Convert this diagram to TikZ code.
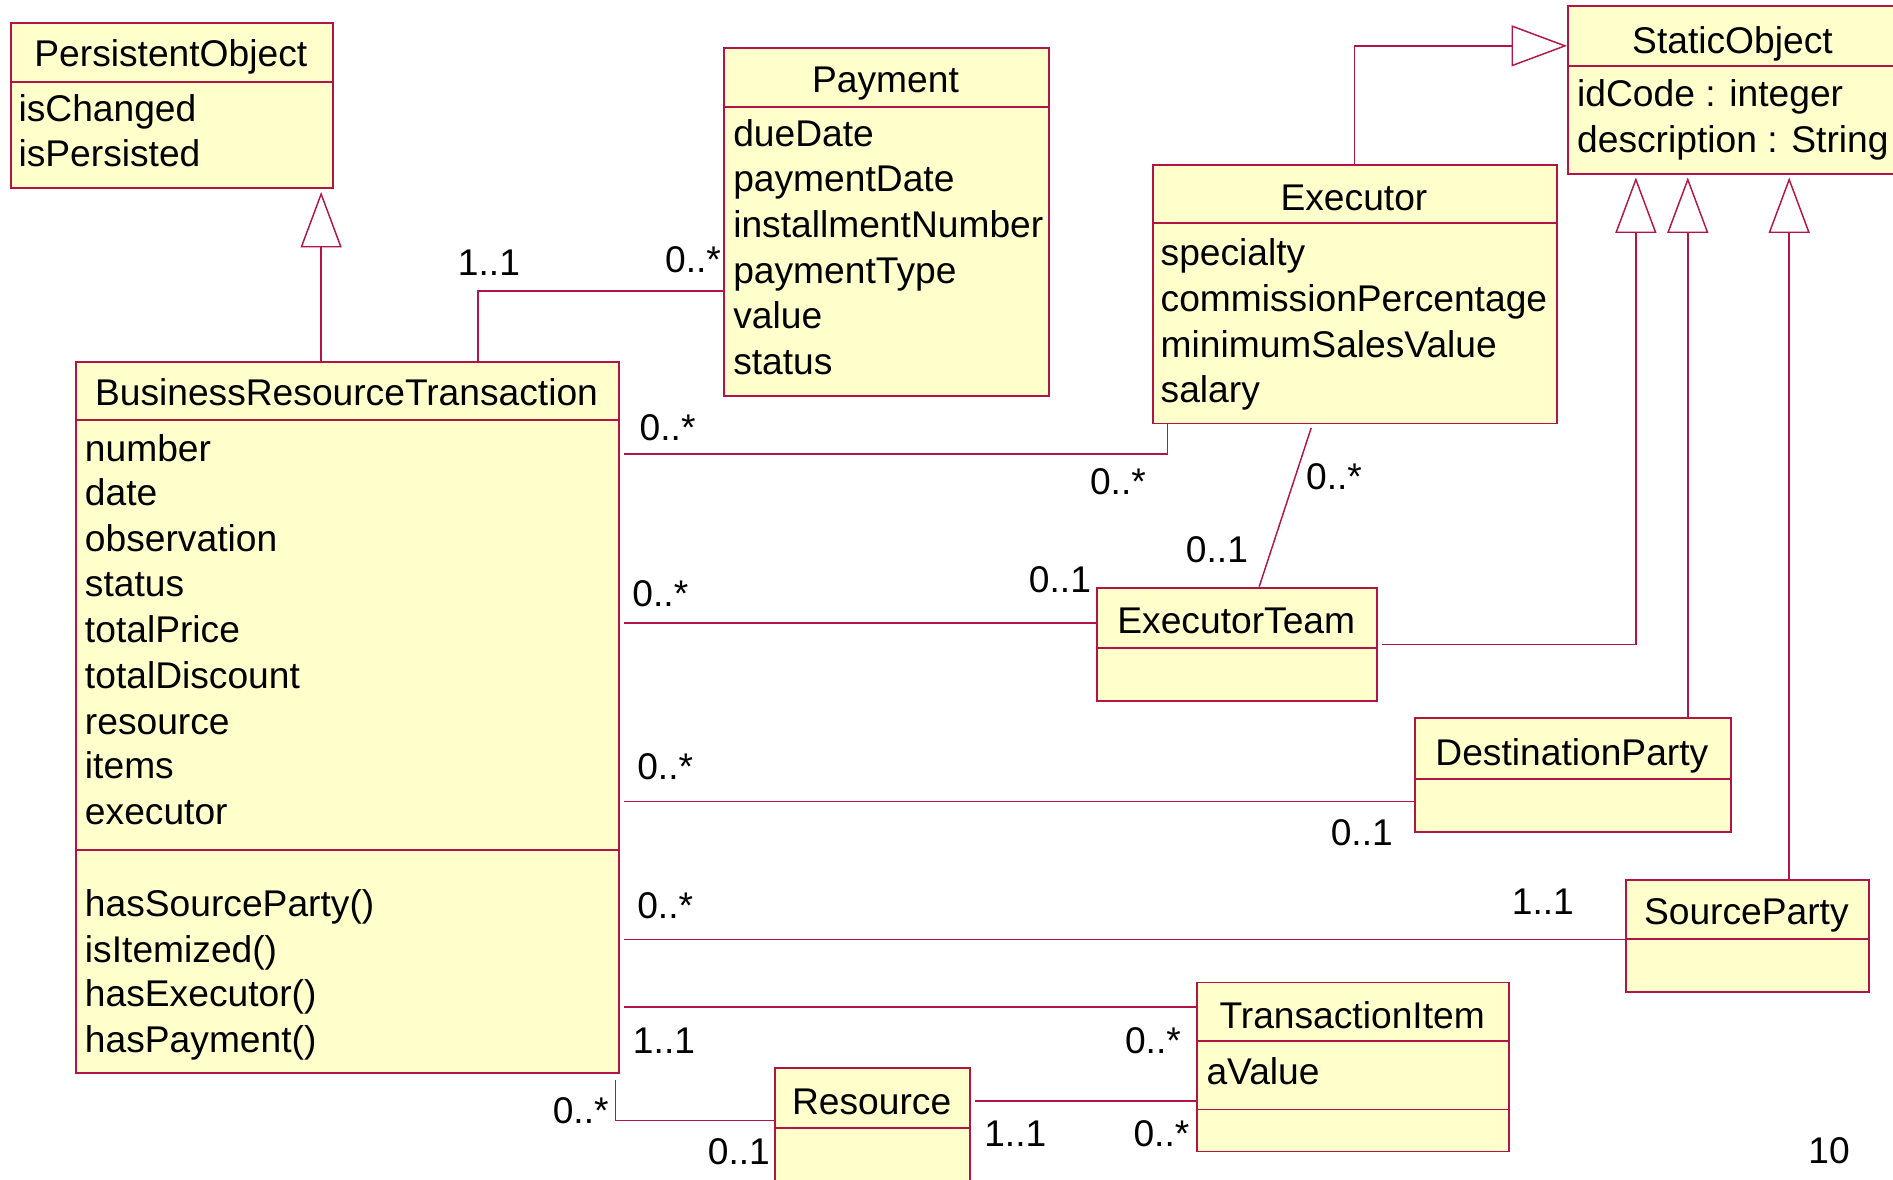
\documentclass[tikz,border=0pt]{standalone}
\usepackage{fontspec}
\setmainfont{Liberation Sans}
\usetikzlibrary{arrows.meta}
\definecolor{umlline}{RGB}{178,20,70}
\definecolor{umlfill}{RGB}{255,255,204}
\tikzset{
  classbox/.style={draw=umlline, fill=umlfill, line width=0.8pt, inner sep=0pt, anchor=north west},
  divider/.style={draw=umlline, line width=0.8pt},
  assoc/.style={draw=umlline, line width=0.6pt},
  gap/.style={shorten <=1.5pt},
  gen/.style={assoc, -{Triangle[open, length=23pt, width=17pt]}, shorten >=1.2pt},
  txt/.style={inner sep=0pt, font=\fontsize{15.4pt}{18pt}\selectfont},
  attr/.style={txt, anchor=base west},
  cname/.style={txt, anchor=base},
  mult/.style={txt, anchor=center},
}
% class rectangle: name, left, top, right, bottom
\newcommand\classrect[5]{\node[classbox, minimum width={(#4-#2)*0.5pt}, minimum height={(#5-#3)*0.5pt}] (#1) at (#2,#3) {};}
\begin{document}
\begin{tikzpicture}[x=0.5pt, y=-0.5pt]
\useasboundingbox (0,0) rectangle (1568,977);
\clip (0,0) rectangle (1568,977);

% ---------- PersistentObject ----------
\classrect{po}{8}{18}{275}{155}
\draw[divider] (8,68) -- (275,68);
\node[cname] (po-name) at (141.5,55) {PersistentObject};
\node[attr] (po-a1) at (15,101) {isChanged};
\node[attr] (po-a2) at (15,138) {isPersisted};

% ---------- Payment ----------
\classrect{pay}{599}{39}{868}{327}
\draw[divider] (599,89) -- (868,89);
\node[cname] (pay-name) at (733.5,77) {Payment};
\node[attr] (pay-a1) at (607,121) {dueDate};
\node[attr] (pay-a2) at (607,159) {paymentDate};
\node[attr] (pay-a3) at (607,197) {installmentNumber};
\node[attr] (pay-a4) at (607,235) {paymentType};
\node[attr] (pay-a5) at (607,272) {value};
\node[attr] (pay-a6) at (607,310) {status};

% ---------- StaticObject ----------
\classrect{so}{1298}{4}{1572}{143}
\draw[divider] (1298,55) -- (1572,55);
\node[cname] (so-name) at (1435,44) {StaticObject};
\node[attr] (so-a1) at (1306,88) {idCode : integer};
\node[attr] (so-a2) at (1306,126) {description : String};

% ---------- Executor ----------
\classrect{ex}{954}{136}{1289}{350}
\draw[divider] (954,185) -- (1289,185);
\node[cname] (ex-name) at (1121.5,174) {Executor};
\node[attr] (ex-a1) at (961,220) {specialty};
\node[attr] (ex-a2) at (961,258) {commissionPercentage};
\node[attr] (ex-a3) at (961,296) {minimumSalesValue};
\node[attr] (ex-a4) at (961,333) {salary};

% ---------- BusinessResourceTransaction ----------
\classrect{brt}{62}{299}{512}{888}
\draw[divider] (62,348) -- (512,348);
\draw[divider] (62,704) -- (512,704);
\node[cname] (brt-name) at (287,336) {BusinessResourceTransaction};
\node[attr] (brt-a1) at (70,382) {number};
\node[attr] (brt-a2) at (70,419) {date};
\node[attr] (brt-a3) at (70,457) {observation};
\node[attr] (brt-a4) at (70,494) {status};
\node[attr] (brt-a5) at (70,532) {totalPrice};
\node[attr] (brt-a6) at (70,570) {totalDiscount};
\node[attr] (brt-a7) at (70,608) {resource};
\node[attr] (brt-a8) at (70,645) {items};
\node[attr] (brt-a9) at (70,683) {executor};
\node[attr] (brt-o1) at (70,759) {hasSourceParty()};
\node[attr] (brt-o2) at (70,797) {isItemized()};
\node[attr] (brt-o3) at (70,834) {hasExecutor()};
\node[attr] (brt-o4) at (70,872) {hasPayment()};

% ---------- ExecutorTeam ----------
\classrect{et}{908}{486}{1140}{580}
\draw[divider] (908,537) -- (1140,537);
\node[cname] (et-name) at (1024,525) {ExecutorTeam};

% ---------- DestinationParty ----------
\classrect{dp}{1171}{594}{1433}{688}
\draw[divider] (1171,645) -- (1433,645);
\node[cname] (dp-name) at (1302,634) {DestinationParty};

% ---------- SourceParty ----------
\classrect{sp}{1346}{728}{1547}{821}
\draw[divider] (1346,778) -- (1547,778);
\node[cname] (sp-name) at (1446.5,766) {SourceParty};

% ---------- TransactionItem ----------
\classrect{ti}{991}{813}{1249}{953}
\draw[divider] (991,862) -- (1249,862);
\draw[divider] (991,919) -- (1249,919);
\node[cname] (ti-name) at (1120,852) {TransactionItem};
\node[attr] (ti-a1) at (999,898) {aValue};

% ---------- Resource ----------
\classrect{res}{641}{884}{803}{995}
\draw[divider] (641,934) -- (803,934);
\node[cname] (res-name) at (722,923) {Resource};

% ---------- generalisations ----------
\coordinate (g-po) at (266,0);
\draw[gen] (g-po |- brt.north) -- (g-po |- po.south);
\coordinate (g-ex) at (1122,38);
\draw[gen, shorten >=0pt] (g-ex |- ex.north) -- (g-ex) -- (g-ex -| so.west);
\coordinate (g-et) at (1355,534);
\draw[gen, gap] (g-et -| et.east) -- (g-et) -- (g-et |- so.south);
\coordinate (g-dp) at (1398,0);
\draw[gen] (g-dp |- dp.north) -- (g-dp |- so.south);
\coordinate (g-sp) at (1482,0);
\draw[gen] (g-sp |- sp.north) -- (g-sp |- so.south);

% ---------- associations ----------
\coordinate (l-pay) at (396,241);
\draw[assoc] (l-pay |- brt.north) -- (l-pay) -- (l-pay -| pay.west);
\coordinate (l-ex) at (967,376);
\draw[assoc, gap] (l-ex -| brt.east) -- (l-ex) -- (l-ex |- ex.south);
\coordinate (l-d1) at (1087,0);
\coordinate (l-d2) at (1043,0);
\draw[assoc, gap] (l-d1 |- ex.south) -- (l-d2 |- et.north);
\coordinate (l-et) at (0,516);
\draw[assoc, gap] (l-et -| brt.east) -- (l-et -| et.west);
\coordinate (l-dp) at (0,664);
\draw[assoc, gap] (l-dp -| brt.east) -- (l-dp -| dp.west);
\coordinate (l-sp) at (0,778);
\draw[assoc, gap] (l-sp -| brt.east) -- (l-sp -| sp.west);
\coordinate (l-ti) at (0,834);
\draw[assoc, gap] (l-ti -| brt.east) -- (l-ti -| ti.west);
\coordinate (l-res) at (510,928);
\draw[assoc, shorten <=2.5pt] (l-res |- brt.south) -- (l-res) -- (l-res -| res.west);
\coordinate (l-ri) at (0,912);
\draw[assoc, gap] (l-ri -| res.east) -- (l-ri -| ti.west);

% ---------- multiplicities ----------
\node[mult] (m-pay1) at (405,218) {1..1};
\node[mult] (m-pay2) at (574,215) {0..*};
\node[mult] (m-ex1) at (553,354) {0..*};
\node[mult] (m-ex2) at (926,399) {0..*};
\node[mult] (m-exet1) at (1105,395) {0..*};
\node[mult] (m-exet2) at (1008,455) {0..1};
\node[mult] (m-et1) at (547,492) {0..*};
\node[mult] (m-et2) at (878,480) {0..1};
\node[mult] (m-dp1) at (551,635) {0..*};
\node[mult] (m-dp2) at (1128,690) {0..1};
\node[mult] (m-sp1) at (551,750) {0..*};
\node[mult] (m-sp2) at (1278,747) {1..1};
\node[mult] (m-ti1) at (550,862) {1..1};
\node[mult] (m-ti2) at (955,862) {0..*};
\node[mult] (m-res1) at (481,920) {0..*};
\node[mult] (m-res2) at (612,954) {0..1};
\node[mult] (m-ri1) at (841,939) {1..1};
\node[mult] (m-ri2) at (962,939) {0..*};

% ---------- page number ----------
\node[mult] (pageno) at (1515,953) {10};
\end{tikzpicture}
\end{document}
